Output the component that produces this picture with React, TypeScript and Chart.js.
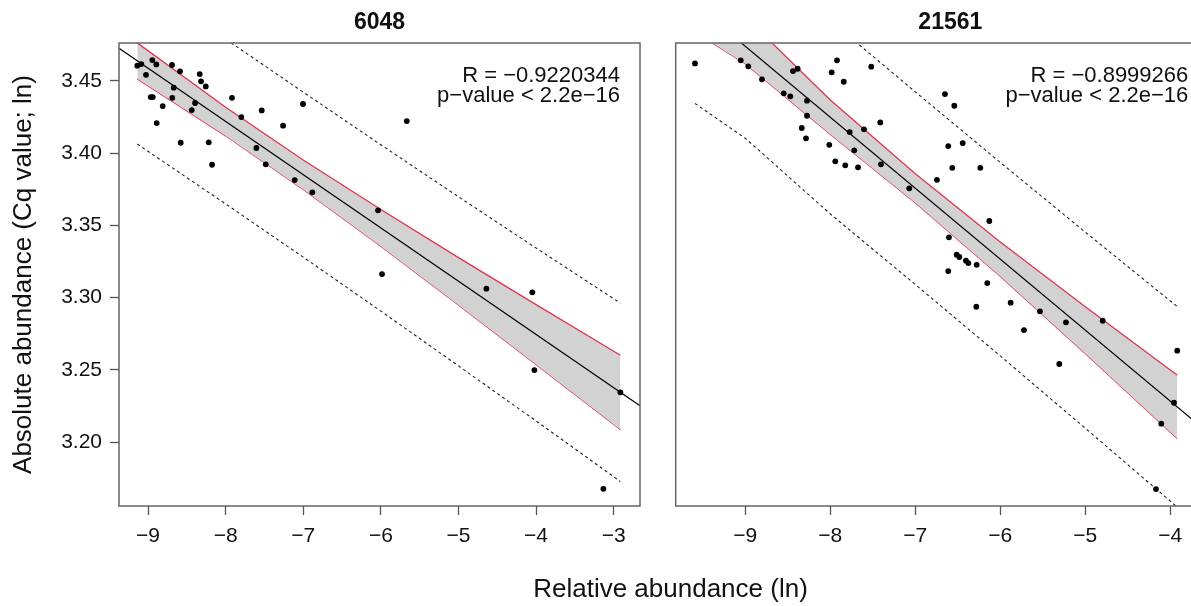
import { useEffect, useRef } from 'react';
import { Chart, registerables } from 'chart.js';

Chart.register(...registerables);

const FONT = "'Liberation Sans', Arial, Helvetica, sans-serif";

// ---------- data: panel "6048" ----------
const leftTitle = '6048';
const leftX = [-9.138, -9.086, -9.026, -8.945, -8.893, -8.965, -8.939, -8.888, -8.811, -8.691, -8.669, -8.687, -8.588, -8.579, -8.394, -8.437, -8.334, -8.317, -8.256, -8.218, -8.175, -7.918, -7.798, -7.535, -7.604, -7.483, -7.26, -7.11, -7.003, -6.883, -6.036, -5.666, -5.985, -4.64, -4.048, -4.022, -2.914, -3.133];
const leftY = [3.4604, 3.4615, 3.4541, 3.4643, 3.4613, 3.4387, 3.4387, 3.4207, 3.4325, 3.4609, 3.4452, 3.4382, 3.4565, 3.4071, 3.4346, 3.4297, 3.4546, 3.4496, 3.4461, 3.4074, 3.3919, 3.4382, 3.4249, 3.4295, 3.4035, 3.3922, 3.4189, 3.3813, 3.4339, 3.3728, 3.3604, 3.4221, 3.3163, 3.3062, 3.3037, 3.2499, 3.2345, 3.1678];
const leftFitX = [-9.374, -2.661];
const leftFitY = [3.4724, 3.2252];
const leftBandX = [-9.138, -8, -7, -6, -5, -4, -2.914];
const leftBandUpper = [3.4762, 3.4317, 3.3952, 3.3609, 3.3277, 3.2952, 3.2602];
const leftBandLower = [3.4513, 3.4119, 3.3748, 3.3356, 3.2949, 3.2538, 3.2088];
const leftPredUpper = [3.5212, 3.4788, 3.4421, 3.4057, 3.3698, 3.3343, 3.2962];
const leftPredLower = [3.4062, 3.3648, 3.328, 3.2907, 3.2528, 3.2147, 3.1728];
const leftStats = ['R = \u22120.9220344', 'p\u2212value < 2.2e\u221216'];
const leftXTicks = [-9, -8, -7, -6, -5, -4, -3];
const leftXTickLabels = ['\u22129', '\u22128', '\u22127', '\u22126', '\u22125', '\u22124', '\u22123'];

// ---------- data: panel "21561" ----------
const rightTitle = '21561';
const rightX = [-9.592, -9.054, -8.965, -8.804, -8.439, -8.384, -8.548, -8.471, -8.274, -8.274, -8.336, -8.286, -7.921, -7.984, -7.842, -7.518, -8.012, -7.941, -7.824, -7.674, -7.772, -7.718, -7.604, -7.412, -7.404, -7.071, -6.745, -6.651, -6.541, -6.612, -6.565, -6.442, -6.235, -6.604, -6.129, -6.513, -6.482, -6.404, -6.376, -6.278, -6.612, -6.153, -6.282, -5.878, -5.533, -5.227, -5.721, -5.306, -4.795, -3.918, -3.956, -4.106, -4.168];
const rightY = [3.462, 3.4641, 3.46, 3.451, 3.4567, 3.4583, 3.4413, 3.4392, 3.4362, 3.4258, 3.4173, 3.4102, 3.4641, 3.4558, 3.4493, 3.4597, 3.4057, 3.3943, 3.3915, 3.3901, 3.4145, 3.4019, 3.4164, 3.4212, 3.3922, 3.3756, 3.3815, 3.4408, 3.4327, 3.4048, 3.3898, 3.4069, 3.3898, 3.3417, 3.353, 3.3297, 3.3281, 3.3255, 3.3239, 3.3227, 3.3184, 3.3101, 3.2937, 3.2965, 3.2905, 3.2829, 3.2776, 3.2541, 3.284, 3.2633, 3.2273, 3.2128, 3.1676];
const rightFitX = [-9.819, -3.356];
const rightFitY = [3.514, 3.1969];
const rightBandX = [-9.592, -9, -8, -7, -6, -5, -4, -3.918];
const rightBandUpper = [3.5222, 3.4942, 3.4367, 3.3857, 3.3385, 3.2937, 3.25, 3.2465];
const rightBandLower = [3.4836, 3.4618, 3.413, 3.3657, 3.3148, 3.2613, 3.207, 3.2025];
const rightPredUpper = [3.5715, 3.5458, 3.4917, 3.4423, 3.3935, 3.3453, 3.2977, 3.2939];
const rightPredLower = [3.4343, 3.4102, 3.3579, 3.3091, 3.2597, 3.2097, 3.1593, 3.1551];
const rightStats = ['R = \u22120.8999266', 'p\u2212value < 2.2e\u221216'];
const rightXTicks = [-9, -8, -7, -6, -5, -4];
const rightXTickLabels = ['\u22129', '\u22128', '\u22127', '\u22126', '\u22125', '\u22124'];

// ---------- shared ----------
const yTicks = [3.2, 3.25, 3.3, 3.35, 3.4, 3.45];
const yTickLabels = ['3.20', '3.25', '3.30', '3.35', '3.40', '3.45'];
const yTitle = 'Absolute abundance (Cq value; ln)';
const xTitle = 'Relative abundance (ln)';

const Y_MIN = 3.1559;
const Y_MAX = 3.4761;

const pts = (xs: number[], ys: number[]) => xs.map((x, i) => ({ x, y: ys[i] }));

type PanelCfg = {
  title: string;
  px: number[]; py: number[];
  fitX: number[]; fitY: number[];
  bandX: number[]; bandUp: number[]; bandLo: number[];
  predUp: number[]; predLo: number[];
  stats: string[];
  xTicks: number[]; xTickLabels: string[];
  xMin: number; xMax: number;
  showY: boolean;
  padLeft: number; padRight: number;
  statsInset: number;
};

function makeChart(canvas: HTMLCanvasElement, c: PanelCfg) {
  const boxPlugin = {
    id: 'rbox',
    afterDatasetsDraw(chart: any) {
      const { ctx, chartArea } = chart;
      ctx.save();
      ctx.strokeStyle = '#666';
      ctx.lineWidth = 1.5;
      ctx.strokeRect(chartArea.left, chartArea.top, chartArea.right - chartArea.left, chartArea.bottom - chartArea.top);
      ctx.font = `22px ${FONT}`;
      ctx.fillStyle = '#111';
      ctx.textAlign = 'right';
      ctx.textBaseline = 'alphabetic';
      const x = chartArea.right - c.statsInset;
      c.stats.forEach((t, i) => ctx.fillText(t, x, 81.7 + i * 19.8));
      ctx.restore();
    },
  };

  const lineDs = (data: any, color: string, width: number, extra: any = {}) => ({
    data,
    showLine: true,
    borderColor: color,
    borderWidth: width,
    pointRadius: 0,
    pointHoverRadius: 0,
    tension: 0,
    fill: false,
    clip: 0,
    ...extra,
  });

  return new Chart(canvas, {
    type: 'scatter',
    data: {
      datasets: [
        {
          data: pts(c.px, c.py),
          backgroundColor: '#000',
          borderColor: '#000',
          pointRadius: 2.9,
          pointBorderWidth: 0,
          showLine: false,
        } as any,
        lineDs(pts(c.fitX, c.fitY), '#000', 1.2),
        lineDs(pts(c.bandX, c.predUp), '#222', 1.1, { borderDash: [3, 3] }),
        lineDs(pts(c.bandX, c.predLo), '#222', 1.1, { borderDash: [3, 3] }),
        lineDs(pts(c.bandX, c.bandUp), 'rgb(226,52,82)', 1.3, { fill: '+1', backgroundColor: 'rgb(210,210,210)' }),
        lineDs(pts(c.bandX, c.bandLo), 'rgb(226,52,82)', 1.3),
      ],
    },
    options: {
      animation: false,
      responsive: false,
      devicePixelRatio: 1,
      events: [],
      layout: { padding: { left: c.padLeft, right: c.padRight, top: 0, bottom: 0 } },
      plugins: {
        legend: { display: false },
        tooltip: { enabled: false },
        title: {
          display: true,
          text: c.title,
          fullSize: false,
          color: '#111',
          font: { family: FONT, size: 23, weight: 'bold' },
          padding: { top: 9, bottom: 6.4 },
        },
      },
      scales: {
        x: {
          type: 'linear',
          min: c.xMin,
          max: c.xMax,
          afterBuildTicks: (s: any) => { s.ticks = c.xTicks.map((v) => ({ value: v })); },
          afterFit: (s: any) => { s.height = 100; },
          ticks: {
            callback: (_v: any, i: number) => c.xTickLabels[i],
            font: { family: FONT, size: 21 },
            color: '#111',
            padding: 9,
            maxRotation: 0,
            autoSkip: false,
          },
          grid: { display: true, drawOnChartArea: false, drawTicks: true, tickLength: 9, tickColor: '#555', tickWidth: 1.3 },
          border: { display: false },
        },
        y: {
          type: 'linear',
          display: c.showY,
          min: Y_MIN,
          max: Y_MAX,
          afterBuildTicks: (s: any) => { s.ticks = yTicks.map((v) => ({ value: v })); },
          afterFit: (s: any) => { if (c.showY) s.width = 119; },
          ticks: {
            callback: (_v: any, i: number) => yTickLabels[i],
            font: { family: FONT, size: 21 },
            color: '#111',
            padding: 8,
            autoSkip: false,
          },
          grid: { display: true, drawOnChartArea: false, drawTicks: true, tickLength: 9, tickColor: '#555', tickWidth: 1.3 },
          border: { display: false },
          title: {
            display: true,
            text: yTitle,
            color: '#111',
            font: { family: FONT, size: 26 },
            padding: { top: 8, bottom: 0 },
          },
        },
      },
    } as any,
    plugins: [boxPlugin],
  });
}

export default function App() {
  const leftRef = useRef<HTMLCanvasElement>(null);
  const rightRef = useRef<HTMLCanvasElement>(null);

  useEffect(() => {
    Chart.defaults.font.family = FONT;
    const a = makeChart(leftRef.current!, {
      title: leftTitle,
      px: leftX, py: leftY,
      fitX: leftFitX, fitY: leftFitY,
      bandX: leftBandX, bandUp: leftBandUpper, bandLo: leftBandLower,
      predUp: leftPredUpper, predLo: leftPredLower,
      stats: leftStats,
      xTicks: leftXTicks, xTickLabels: leftXTickLabels,
      xMin: -9.374, xMax: -2.661,
      showY: true,
      padLeft: 0, padRight: 20,
      statsInset: 20,
    });
    const b = makeChart(rightRef.current!, {
      title: rightTitle,
      px: rightX, py: rightY,
      fitX: rightFitX, fitY: rightFitY,
      bandX: rightBandX, bandUp: rightBandUpper, bandLo: rightBandLower,
      predUp: rightPredUpper, predLo: rightPredLower,
      stats: rightStats,
      xTicks: rightXTicks, xTickLabels: rightXTickLabels,
      xMin: -9.819, xMax: -3.356,
      showY: false,
      padLeft: 15.7, padRight: 15,
      statsInset: 36.7,
    });
    return () => { a.destroy(); b.destroy(); };
  }, []);

  return (
    <div style={{ position: 'fixed', left: 0, top: 0, width: 1191, height: 606, overflow: 'hidden', background: '#fff' }}>
      <canvas ref={leftRef} width={660} height={606} style={{ position: 'absolute', left: 0, top: 0 }} />
      <canvas ref={rightRef} width={580} height={606} style={{ position: 'absolute', left: 660, top: 0 }} />
      <div
        style={{
          position: 'absolute',
          left: 670.5,
          top: 574.7,
          transform: 'translateX(-50%)',
          font: `26px ${FONT}`,
          lineHeight: '26px',
          whiteSpace: 'nowrap',
          color: '#111',
        }}
      >
        {xTitle}
      </div>
    </div>
  );
}
